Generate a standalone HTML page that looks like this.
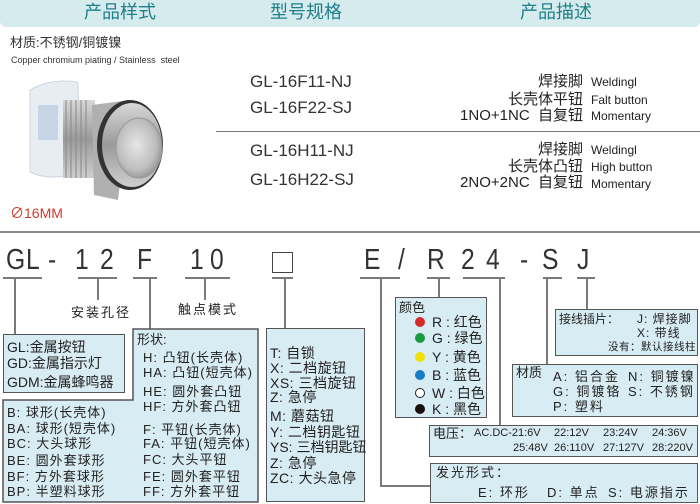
<!DOCTYPE html>
<html><head><meta charset="utf-8">
<style>
*{margin:0;padding:0;box-sizing:border-box}
body{width:700px;height:504px;background:#fff;position:relative;overflow:hidden;font-family:"Liberation Sans","Noto Sans CJK SC",sans-serif;color:#222}
.t{position:absolute;white-space:nowrap;line-height:1}
.hd{position:absolute;left:0;top:0;width:700px;height:27px;background:#d5ebee;border-radius:0 0 6px 6px}
.h{position:absolute;top:3px;font-size:18px;color:#1f7f88;transform:translateX(-50%);white-space:nowrap;line-height:1.1}
.big{position:absolute;top:246px;font-size:29px;line-height:1;color:#333;transform:scaleX(0.85);transform-origin:left}
.box{position:absolute;background:#d8ecf3;border:1.5px solid #555}
.ln{position:absolute;background:#7a7a7a}
.s13{font-size:13px}.s14{font-size:14px}.s12{font-size:12px}.s11{font-size:11px}
.dot{position:absolute;width:10px;height:10px;border-radius:50%}
</style></head><body>
<div class="hd"></div>
<div class="h" style="left:120px">产品样式</div>
<div class="h" style="left:306px">型号规格</div>
<div class="h" style="left:556px">产品描述</div>

<div class="t" style="left:10px;top:36px;font-size:13px;color:#333">材质:不锈钢/铜镀镍</div>
<div class="t" style="left:11px;top:56px;font-size:9px;color:#333">Copper chromium piating / Stainless&nbsp; steel</div>

<svg style="position:absolute;left:15px;top:70px" width="150" height="140" viewBox="15 70 150 140">
<defs>
<radialGradient id="face" cx="0.45" cy="0.45" r="0.6"><stop offset="0" stop-color="#e6e6e6"/><stop offset="0.7" stop-color="#bdbdbd"/><stop offset="1" stop-color="#8e8e8e"/></radialGradient>
<linearGradient id="met" x1="0" y1="0" x2="0" y2="1"><stop offset="0" stop-color="#d8d8d8"/><stop offset="0.5" stop-color="#9a9a9a"/><stop offset="1" stop-color="#cfcfcf"/></linearGradient>
</defs>
<path d="M30 90 Q50 78 78 82 L80 172 Q50 182 30 172Z" fill="#e8edf3" stroke="#cfd6df"/>
<rect x="38" y="105" width="20" height="35" fill="#b9c9df" opacity="0.7"/>
<rect x="63" y="100" width="32" height="78" fill="url(#met)"/>
<g stroke="#888" stroke-width="1"><line x1="66" y1="100" x2="66" y2="178"/><line x1="71" y1="100" x2="71" y2="178"/><line x1="76" y1="100" x2="76" y2="178"/><line x1="81" y1="100" x2="81" y2="178"/><line x1="86" y1="100" x2="86" y2="178"/></g>
<polygon points="92,105 130,100 118,200 94,195" fill="#b0b0b0"/>
<ellipse cx="130" cy="145" rx="33" ry="45" fill="#333"/>
<ellipse cx="132" cy="145" rx="30" ry="42" fill="url(#met)"/>
<ellipse cx="139" cy="148" rx="23" ry="30" fill="url(#face)" stroke="#999"/>
</svg>
<div class="t" style="left:10px;top:206px;font-size:14px;color:#d23a2a">∅16MM</div>

<div class="t" style="left:250px;top:73px;font-size:17px;color:#333">GL-16F11-NJ</div>
<div class="t" style="left:250px;top:99px;font-size:17px;color:#333">GL-16F22-SJ</div>
<div style="position:absolute;left:216px;top:131px;width:484px;height:1px;background:#777"></div>
<div class="t" style="left:250px;top:142px;font-size:17px;color:#333">GL-16H11-NJ</div>
<div class="t" style="left:250px;top:171px;font-size:17px;color:#333">GL-16H22-SJ</div>

<div class="t" style="right:117px;top:74px;font-size:15px">焊接脚</div>
<div class="t" style="right:117px;top:92px;font-size:15px">长壳体平钮</div>
<div class="t" style="right:117px;top:108px;font-size:15px">1NO+1NC&nbsp; 自复钮</div>
<div class="t" style="left:591px;top:76px;font-size:12px">Weldingl</div>
<div class="t" style="left:591px;top:94px;font-size:12px">Falt button</div>
<div class="t" style="left:591px;top:110px;font-size:12px">Momentary</div>
<div class="t" style="right:117px;top:142px;font-size:15px">焊接脚</div>
<div class="t" style="right:117px;top:159px;font-size:15px">长壳体凸钮</div>
<div class="t" style="right:117px;top:175px;font-size:15px">2NO+2NC&nbsp; 自复钮</div>
<div class="t" style="left:591px;top:144px;font-size:12px">Weldingl</div>
<div class="t" style="left:591px;top:161px;font-size:12px">High button</div>
<div class="t" style="left:591px;top:178px;font-size:12px">Momentary</div>

<div style="position:absolute;left:0;top:231px;width:700px;height:1.5px;background:#888"></div>

<div class="big" style="left:6px">G</div>
<div class="big" style="left:26px">L</div>
<div class="big" style="left:48px">-</div>
<div class="big" style="left:75px">1</div>
<div class="big" style="left:100px">2</div>
<div class="big" style="left:137px">F</div>
<div class="big" style="left:190px">1</div>
<div class="big" style="left:210px">0</div>
<div style="position:absolute;left:272px;top:252px;width:21px;height:21px;border:1.5px solid #444"></div>
<div class="big" style="left:364px">E</div>
<div class="big" style="left:398px">/</div>
<div class="big" style="left:427px">R</div>
<div class="big" style="left:461px">2</div>
<div class="big" style="left:486px">4</div>
<div class="big" style="left:520px">-</div>
<div class="big" style="left:542px">S</div>
<div class="big" style="left:577px">J</div>

<div class="ln" style="left:3px;top:277px;width:39px;height:1.5px"></div>
<div class="ln" style="left:78px;top:277px;width:39px;height:1.5px"></div>
<div class="ln" style="left:133px;top:277px;width:24px;height:1.5px"></div>
<div class="ln" style="left:185px;top:277px;width:45px;height:1.5px"></div>
<div class="ln" style="left:272px;top:277px;width:21px;height:1.5px"></div>
<div class="ln" style="left:360px;top:277px;width:40px;height:1.5px"></div>
<div class="ln" style="left:427px;top:277px;width:23px;height:1.5px"></div>
<div class="ln" style="left:463px;top:277px;width:42px;height:1.5px"></div>
<div class="ln" style="left:543px;top:277px;width:19px;height:1.5px"></div>
<div class="ln" style="left:577px;top:277px;width:18px;height:1.5px"></div>
<div class="ln" style="left:14px;top:277px;width:1.5px;height:57px"></div>
<div class="ln" style="left:97px;top:277px;width:1.5px;height:23px"></div>
<div class="ln" style="left:149px;top:277px;width:1.5px;height:52px"></div>
<div class="ln" style="left:204px;top:277px;width:1.5px;height:23px"></div>
<div class="ln" style="left:284px;top:277px;width:1.5px;height:51px"></div>
<div class="ln" style="left:380px;top:277px;width:1.5px;height:209px"></div>
<div class="ln" style="left:380px;top:485px;width:50px;height:1.5px"></div>
<div class="ln" style="left:438px;top:277px;width:1.5px;height:20px"></div>
<div class="ln" style="left:499px;top:277px;width:1.5px;height:148px"></div>
<div class="ln" style="left:546px;top:277px;width:1.5px;height:87px"></div>
<div class="ln" style="left:586px;top:277px;width:1.5px;height:32px"></div>

<div class="t s13" style="left:71px;top:306px;letter-spacing:2px">安装孔径</div>
<div class="t s13" style="left:178px;top:303px;letter-spacing:2px">触点模式</div>

<svg style="position:absolute;left:0;top:0" width="700" height="504">
<polygon points="3,400 133,400 133,329 258,329 258,502 3,502" fill="#d8ecf3" stroke="#555" stroke-width="1.5"/>
</svg>
<div class="box" style="left:3px;top:334px;width:122px;height:59px"></div>
<div class="t s14" style="left:7px;top:340px">GL:金属按钮</div>
<div class="t s14" style="left:7px;top:356px">GD:金属指示灯</div>
<div class="t s14" style="left:7px;top:375px">GDM:金属蜂鸣器</div>

<div class="t s13" style="left:137px;top:333px">形状:</div>
<div class="t s13" style="left:143px;top:351px;letter-spacing:1px">H: 凸钮(长壳体)</div>
<div class="t s13" style="left:143px;top:366px;letter-spacing:1px">HA: 凸钮(短壳体)</div>
<div class="t s13" style="left:143px;top:385px;letter-spacing:1px">HE: 圆外套凸钮</div>
<div class="t s13" style="left:143px;top:400px;letter-spacing:1px">HF: 方外套凸钮</div>
<div class="t s13" style="left:143px;top:423px;letter-spacing:1px">F: 平钮(长壳体)</div>
<div class="t s13" style="left:143px;top:437px;letter-spacing:1px">FA: 平钮(短壳体)</div>
<div class="t s13" style="left:143px;top:453px;letter-spacing:1px">FC: 大头平钮</div>
<div class="t s13" style="left:143px;top:470px;letter-spacing:1px">FE: 圆外套平钮</div>
<div class="t s13" style="left:143px;top:485px;letter-spacing:1px">FF: 方外套平钮</div>
<div class="t s13" style="left:7px;top:406px;letter-spacing:1px">B: 球形(长壳体)</div>
<div class="t s13" style="left:7px;top:422px;letter-spacing:1px">BA: 球形(短壳体)</div>
<div class="t s13" style="left:7px;top:437px;letter-spacing:1px">BC: 大头球形</div>
<div class="t s13" style="left:7px;top:454px;letter-spacing:1px">BE: 圆外套球形</div>
<div class="t s13" style="left:7px;top:470px;letter-spacing:1px">BF: 方外套球形</div>
<div class="t s13" style="left:7px;top:485px;letter-spacing:1px">BP: 半塑料球形</div>

<div class="box" style="left:266px;top:328px;width:99px;height:174px"></div>
<div class="t s14" style="left:270px;top:346px;letter-spacing:0.5px">T: 自锁</div>
<div class="t s14" style="left:270px;top:361px;letter-spacing:0.5px">X: 二档旋钮</div>
<div class="t s14" style="left:270px;top:376px;letter-spacing:0.5px">XS: 三档旋钮</div>
<div class="t s14" style="left:270px;top:390px;letter-spacing:0.5px">Z: 急停</div>
<div class="t s14" style="left:270px;top:409px;letter-spacing:0.5px">M: 蘑菇钮</div>
<div class="t s14" style="left:270px;top:425px;letter-spacing:0.5px">Y: 二档钥匙钮</div>
<div class="t s14" style="left:270px;top:440px;letter-spacing:0px">YS: 三档钥匙钮</div>
<div class="t s14" style="left:270px;top:456px;letter-spacing:0.5px">Z: 急停</div>
<div class="t s14" style="left:270px;top:471px;letter-spacing:0.5px">ZC: 大头急停</div>

<div class="box" style="left:395px;top:297px;width:92px;height:121px"></div>
<div class="t s13" style="left:399px;top:301px">颜色</div>
<div class="dot" style="left:415px;top:317px;background:#d42a2a"></div>
<div class="dot" style="left:415px;top:333px;background:#1a9a3e"></div>
<div class="dot" style="left:415px;top:352px;background:#f0e000"></div>
<div class="dot" style="left:415px;top:370px;background:#1a7cc4"></div>
<div class="dot" style="left:415px;top:388px;background:#fff;border:1.2px solid #222"></div>
<div class="dot" style="left:415px;top:404px;background:#1a1010"></div>
<div class="t s14" style="left:432px;top:315px">R : 红色</div>
<div class="t s14" style="left:432px;top:331px">G : 绿色</div>
<div class="t s14" style="left:432px;top:350px">Y : 黄色</div>
<div class="t s14" style="left:432px;top:368px">B : 蓝色</div>
<div class="t s14" style="left:432px;top:386px">W : 白色</div>
<div class="t s14" style="left:432px;top:402px">K : 黑色</div>

<div class="box" style="left:555px;top:309px;width:143px;height:47px"></div>
<div class="t s12" style="left:559px;top:313px">接线插片：</div>
<div class="t s12" style="left:637px;top:313px;letter-spacing:1px">J: 焊接脚</div>
<div class="t s12" style="left:637px;top:327px;letter-spacing:1px">X: 带线</div>
<div class="t" style="right:4px;top:342px;font-size:10.5px;letter-spacing:0.5px">没有：默认接线柱</div>

<div class="box" style="left:512px;top:364px;width:186px;height:53px"></div>
<div class="t s13" style="left:516px;top:366px">材质</div>
<div class="t s13" style="left:553px;top:370px;letter-spacing:2px">A: 铝合金</div>
<div class="t s13" style="left:628px;top:370px;letter-spacing:2px">N: 铜镀镍</div>
<div class="t s13" style="left:553px;top:385px;letter-spacing:2px">G: 铜镀铬</div>
<div class="t s13" style="left:628px;top:385px;letter-spacing:2px">S: 不锈钢</div>
<div class="t s13" style="left:553px;top:400px;letter-spacing:2px">P: 塑料</div>

<div class="box" style="left:429px;top:425px;width:269px;height:32px"></div>
<div class="t s13" style="left:433px;top:427px">电压：</div>
<div class="t s11" style="left:474px;top:428px">AC.DC-21:6V</div>
<div class="t s11" style="left:554px;top:428px">22:12V</div>
<div class="t s11" style="left:603px;top:428px">23:24V</div>
<div class="t s11" style="left:652px;top:428px">24:36V</div>
<div class="t s11" style="left:513px;top:443px">25:48V</div>
<div class="t s11" style="left:554px;top:443px">26:110V</div>
<div class="t s11" style="left:603px;top:443px">27:127V</div>
<div class="t s11" style="left:652px;top:443px">28:220V</div>

<div class="box" style="left:430px;top:463px;width:268px;height:40px"></div>
<div class="t s13" style="left:436px;top:466px;letter-spacing:2px">发光形式：</div>
<div class="t s13" style="left:478px;top:486px;letter-spacing:2px">E: 环形</div>
<div class="t s13" style="left:547px;top:486px;letter-spacing:2px">D: 单点</div>
<div class="t s13" style="left:608px;top:486px;letter-spacing:2px">S: 电源指示</div>
</body></html>
